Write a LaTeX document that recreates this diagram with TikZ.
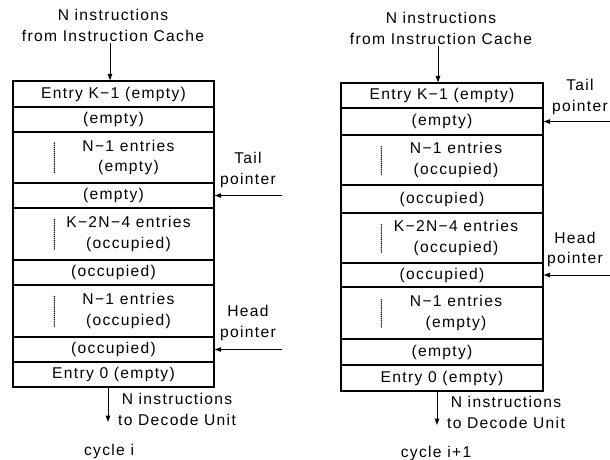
\documentclass[tikz,border=0pt]{standalone}
\usepackage{fontspec}
\setmainfont{Liberation Sans}[LetterSpace=8.5]
\usetikzlibrary{arrows.meta}
\begin{document}
\begin{tikzpicture}[x=1pt,y=-1pt,
  font=\fontsize{15.6}{20.5}\selectfont,
  cell/.style={draw, line width=1.3pt, inner sep=0pt},
  lcell/.style={cell, minimum width=201pt},
  rcell/.style={cell, minimum width=202pt},
  txt/.style={align=center, inner sep=1pt},
  arr/.style={line width=1pt, -{Triangle[length=6.5pt,width=4.5pt]}},
  dots/.style={line width=1.6pt, line cap=round, dash pattern=on 0pt off 2.1pt}]
\useasboundingbox (0,0) rectangle (610,459);

% ---------------- cycle i ----------------
\node[lcell, minimum height=26pt] (L1) at (113.5,94)    {Entry K−1 (empty)};
\node[lcell, minimum height=25pt] (L2) at (113.5,119.5) {(empty)};
\node[lcell, minimum height=51pt] (L3) at (113.5,157.5) {};
\node[lcell, minimum height=25pt] (L4) at (113.5,195.5) {(empty)};
\node[lcell, minimum height=52pt] (L5) at (113.5,234)   {};
\node[lcell, minimum height=25pt] (L6) at (113.5,272.5) {(occupied)};
\node[lcell, minimum height=52pt] (L7) at (113.5,311)   {};
\node[lcell, minimum height=25pt] (L8) at (113.5,349.5) {(occupied)};
\node[lcell, minimum height=25pt] (L9) at (113.5,374.5) {Entry 0 (empty)};

\node[txt] (L3t) at ([xshift=15pt]L3.center) {N−1 entries\\(empty)};
\node[txt] (L5t) at ([xshift=15pt]L5.center) {K−2N−4 entries\\(occupied)};
\node[txt] (L7t) at ([xshift=15pt]L7.center) {N−1 entries\\(occupied)};
\foreach \r in {L3,L5,L7}
  \draw[dots] ([xshift=42pt,yshift=-15pt]\r.west) -- ([xshift=42pt,yshift=15pt]\r.west);

\node[txt] (Lin) at (113,25.5) {N instructions\\from Instruction Cache};
\draw[arr] ([xshift=-3pt]Lin.south) -- ([xshift=-3.5pt]L1.north);

\node[txt] (Ltail) at (248,170) {Tail\\pointer};
\coordinate (LtailS) at (282,195.5);
\draw[arr] (LtailS) -- (L4.east);

\node[txt] (Lhead) at (248,323) {Head\\pointer};
\coordinate (LheadS) at (282,349.5);
\draw[arr] (LheadS) -- (L8.east);

\coordinate (Lout) at (108,422);
\draw[arr] ([xshift=-5.5pt]L9.south) -- (Lout);
\node[txt] (Loutt) at (177,409.5) {N instructions\\to Decode Unit};
\node[txt] (Lcyc) at (109,451) {cycle i};

% ---------------- cycle i+1 ----------------
\node[rcell, minimum height=25pt] (R1) at (442,95.5)  {Entry K−1 (empty)};
\node[rcell, minimum height=27pt] (R2) at (442,121.5) {(empty)};
\node[rcell, minimum height=50pt] (R3) at (442,160)   {};
\node[rcell, minimum height=28pt] (R4) at (442,199)   {(occupied)};
\node[rcell, minimum height=50pt] (R5) at (442,238)   {};
\node[rcell, minimum height=24pt] (R6) at (442,275)   {(occupied)};
\node[rcell, minimum height=52pt] (R7) at (442,313)   {};
\node[rcell, minimum height=26pt] (R8) at (442,352)   {(empty)};
\node[rcell, minimum height=26pt] (R9) at (442,378)   {Entry 0 (empty)};

\node[txt] (R3t) at ([xshift=14pt]R3.center) {N−1 entries\\(occupied)};
\node[txt] (R5t) at ([xshift=14pt]R5.center) {K−2N−4 entries\\(occupied)};
\node[txt] (R7t) at ([xshift=14pt]R7.center) {N−1 entries\\(empty)};
\foreach \r in {R3,R5,R7}
  \draw[dots] ([xshift=41pt,yshift=-14pt]\r.west) -- ([xshift=41pt,yshift=14pt]\r.west);

\node[txt] (Rin) at (441,28.5) {N instructions\\from Instruction Cache};
\draw[arr] ([xshift=-3pt]Rin.south) -- ([xshift=-4pt]R1.north);

\node[txt] (Rtail) at (580,97) {Tail\\pointer};
\coordinate (RtailS) at (609.5,121.5);
\draw[arr] (RtailS) -- (R2.east);

\node[txt] (Rhead) at (575,249.5) {Head\\pointer};
\coordinate (RheadS) at (609.5,275);
\draw[arr] (RheadS) -- (R6.east);

\coordinate (Rout) at (437,425);
\draw[arr] ([xshift=-5pt]R9.south) -- (Rout);
\node[txt] (Routt) at (506,412.5) {N instructions\\to Decode Unit};
\node[txt] (Rcyc) at (436,453) {cycle i+1};
\end{tikzpicture}
\end{document}
